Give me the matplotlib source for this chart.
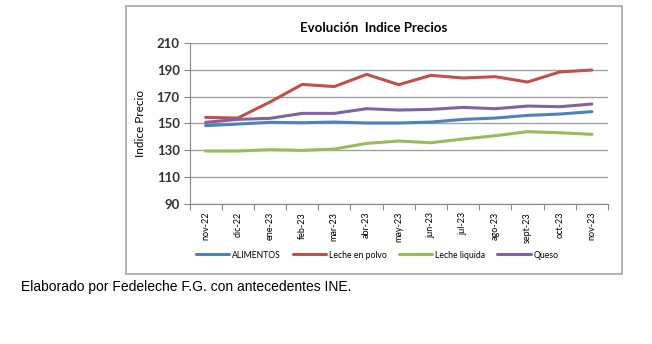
import numpy as np
import matplotlib
matplotlib.use("Agg")
import matplotlib.pyplot as plt
from matplotlib.patches import Rectangle

months = ["nov-22", "dic-22", "ene-23", "feb-23", "mar-23", "abr-23", "may-23",
          "jun-23", "jul-23", "ago-23", "sept-23", "oct-23", "nov-23"]
alimentos = [148.3, 149.5, 150.8, 150.5, 151.0, 150.3, 150.3, 151.0, 153.0, 154.0, 156.0, 157.0, 158.8]
leche_polvo = [154.5, 154.0, 166.0, 179.2, 177.6, 186.7, 179.0, 186.0, 184.0, 185.0, 181.0, 188.5, 190.0]
leche_liquida = [129.3, 129.3, 130.3, 129.8, 130.8, 135.0, 136.8, 135.5, 138.3, 140.8, 143.8, 143.0, 141.8]
queso = [150.8, 153.0, 153.8, 157.5, 157.5, 161.0, 160.0, 160.5, 162.0, 161.0, 163.0, 162.5, 164.5]

series = [
    ("ALIMENTOS", alimentos, "#4F81BD"),
    ("Leche en polvo", leche_polvo, "#C0504D"),
    ("Leche liquida", leche_liquida, "#9BBB59"),
    ("Queso", queso, "#8064A2"),
]

plt.rcParams["font.family"] = ["Lato", "DejaVu Sans"]

W, H = 652, 344
fig = plt.figure(figsize=(W / 100, H / 100), dpi=100)

# chart frame
fig.patches.append(Rectangle((126 / W, 1 - 274 / H), (622 - 126) / W, (274 - 6) / H,
                             transform=fig.transFigure, fill=False,
                             edgecolor="#a6a6a6", linewidth=1.2))

ax = fig.add_axes([189.5 / W, 1 - 203.5 / H, (608 - 189.5) / W, (203.5 - 43.3) / H])
x = np.arange(len(months))
for name, vals, col in series:
    ax.plot(x, vals, color=col, linewidth=2.2, label=name, solid_capstyle="round")

ax.set_xlim(-0.5, len(months) - 0.5)
ax.set_ylim(90, 210)
ax.set_yticks(np.arange(90, 211, 20))
ax.yaxis.grid(True, color="#a0a0a0", linewidth=1)
ax.set_axisbelow(True)
for s in ["top", "right"]:
    ax.spines[s].set_visible(False)
ax.spines["left"].set_color("#888888")
ax.spines["bottom"].set_color("#888888")
ax.tick_params(axis="y", length=4, color="#888888", labelsize=9.5, pad=3)
for lbl in ax.get_yticklabels():
    lbl.set_fontweight("bold")
    lbl.set_color("#333333")

ax.set_xticks(np.arange(-0.5, len(months), 1), minor=False)
ax.set_xticklabels([])
ax.set_xticks(x, minor=True)
ax.set_xticklabels(months, minor=True, rotation=90, fontsize=6.5)
ax.tick_params(axis="x", which="major", length=4, color="#888888")
ax.tick_params(axis="x", which="minor", length=0, pad=6)

ax.set_ylabel("Indice Precio", fontsize=8.5, labelpad=8)

fig.text(374 / W, 1 - 28 / H, "Evolución  Indice Precios", ha="center", va="center",
         fontsize=9.5, fontweight="bold")

ax.legend(loc="center", bbox_to_anchor=(377 / W, 1 - 255 / H), bbox_transform=fig.transFigure,
          ncol=4, frameon=False, fontsize=6.2, handlelength=3.9, columnspacing=1.4,
          handletextpad=0.3)

fig.text(21 / W, 1 - 287 / H, "Elaborado por Fedeleche F.G. con antecedentes INE.",
         ha="left", va="center", fontsize=10, family=["Liberation Sans", "DejaVu Sans"])

fig.savefig("out.png", dpi=100)
